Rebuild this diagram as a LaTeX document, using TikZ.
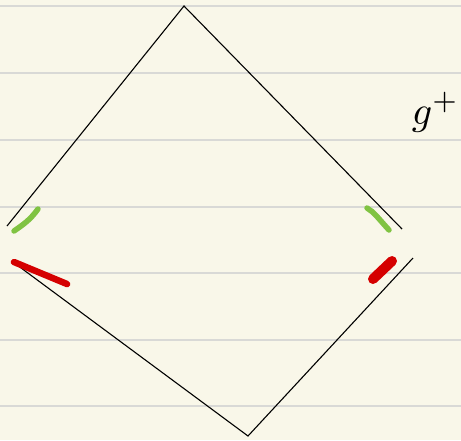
\documentclass[tikz,border=0pt]{standalone}
\usepackage{tikz}
\definecolor{paper}{HTML}{F9F7E9}
\definecolor{rule}{HTML}{D9D9D6}
\definecolor{mkgreen}{HTML}{80C342}
\definecolor{mkred}{HTML}{D50000}
\tikzset{pen/.style={black, line width=1.1pt}, marker/.style={line cap=round, line width=#1}}
\newcommand{\ruleline}[1]{\draw[rule, line width=1.6pt] (0,#1) -- (461,#1);}

\begin{document}
\begin{tikzpicture}[x=1pt, y=-1pt]
\useasboundingbox[fill=paper] (0,0) rectangle (461,440);
\foreach \y in {6,73,140,207,273,340,406} {\ruleline{\y}}
% upper wedge
\coordinate (ul) at (7,226);
\coordinate (top) at (184,6);
\coordinate (ur) at (402,229);
\draw[pen] (ul) -- (top) -- (ur);
% lower wedge
\coordinate (ll) at (13,262);
\coordinate (bot) at (248,436);
\coordinate (lr) at (413,258);
\draw[pen] (ll) -- (bot) -- (lr);
% markers
\draw[mkgreen, marker=5.5pt] (14,231) .. controls (24,224) and (30,220) .. (38,209);
\draw[mkgreen, marker=5.5pt] (367,208) .. controls (374,212) and (378,218) .. (389,230);
\draw[mkred, marker=6.5pt] (14,262) -- (67,284);
\draw[mkred, marker=10pt] (373,279) -- (392,261);
\node[scale=4, transform shape, anchor=base west, inner sep=0pt] (gplus) at (411,124) {$g^{+}$};
\end{tikzpicture}
\end{document}
